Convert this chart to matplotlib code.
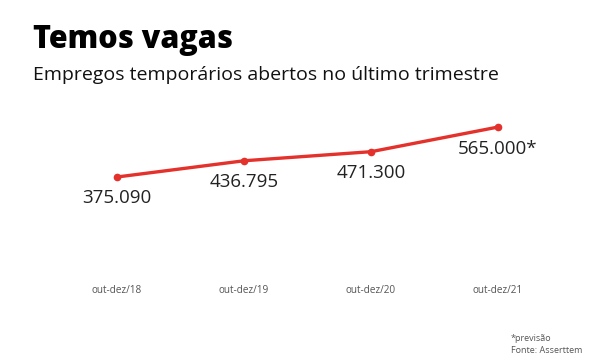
import matplotlib.pyplot as plt

periodos = ['out-dez/18', 'out-dez/19', 'out-dez/20', 'out-dez/21']
vagas = [375090, 436795, 471300, 565000]
rotulos = ['375.090', '436.795', '471.300', '565.000*']

plt.rcParams['font.family'] = ['Open Sans', 'DejaVu Sans']

fig = plt.figure(figsize=(6.02, 3.57), dpi=100)
ax = fig.add_axes([0.0889, 0.2437, 0.8439, 0.4762])

x = list(range(len(periodos)))
ax.plot(x, vagas, color='#e4312b', lw=2.4, marker='o', ms=4.5, solid_capstyle='round')
for xi, v, r in zip(x, vagas, rotulos):
    ax.annotate(r, (xi, v), xytext=(0, -9), textcoords='offset points',
                ha='center', va='top', fontsize=13.5, color='#222222')

ax.set_xlim(-0.5, 3.5)
ax.set_ylim(21478, 667866)
ax.set_xticks(x)
ax.set_xticklabels(periodos, fontsize=7.2, color='#555555')
ax.tick_params(axis='x', length=0, pad=11)
ax.set_yticks([])
for s in ax.spines.values():
    s.set_visible(False)

fig.text(0.055, 0.865, 'Temos vagas', fontsize=22, fontweight='heavy', color='black')
fig.text(0.055, 0.775, 'Empregos temporários abertos no último trimestre', fontsize=14, color='#111111')
fig.text(0.849, 0.01, '*previsão\nFonte: Asserttem', fontsize=6.5, color='#555555', linespacing=1.5)

fig.savefig('out.png', dpi=100, facecolor='white')
